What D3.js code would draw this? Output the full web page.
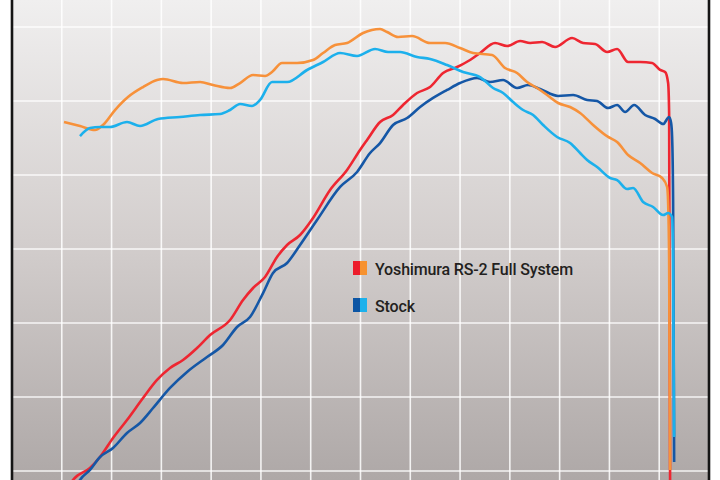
<!DOCTYPE html>
<html>
<head>
<meta charset="utf-8">
<script src="https://cdn.jsdelivr.net/npm/d3@7"></script>
<style>
    body { margin: 0; background: #ffffff; }
    #chart { width: 720px; height: 480px; }
    .legend-label { font-family: Roboto, "Noto Sans", sans-serif; font-size: 16px; font-weight: 500; letter-spacing: -0.15px; fill: #231f20; }
</style>
</head>
<body>
<div id="chart"></div>
<script>
// rpm, horsepower / torque readings off the dyno sheet
const yoshimuraHp = [
    [1165, 8.11], [1225, 8.78], [1567, 10.41], [1768, 11.89], [2029, 14.46], [2310, 16.89],
    [2632, 19.86], [2913, 22.30], [3174, 23.92], [3435, 25.00], [3717, 26.62], [3978, 28.38],
    [4380, 30.41], [4641, 33.11], [4842, 34.73], [5083, 36.22], [5324, 38.92], [5525, 40.54],
    [5786, 41.89], [6047, 44.19], [6389, 47.97], [6730, 50.68], [6991, 53.38], [7132, 54.73],
    [7393, 57.16], [7654, 58.11], [7855, 59.46], [8136, 61.08], [8398, 61.89], [8659, 63.78],
    [8940, 64.59], [9201, 65.54], [9402, 66.49], [9703, 67.84], [9945, 67.43], [10206, 68.11],
    [10407, 67.84], [10648, 67.97], [10909, 67.30], [11250, 68.51], [11471, 67.84], [11712, 67.70],
    [11954, 66.62], [12154, 67.03], [12375, 65.27], [12617, 65.27], [12858, 65.14], [13018, 64.19],
    [13119, 63.92], [13179, 62.43], [13199, 58.38], [13219, 7.43]
];

const yoshimuraTq = [
    [1045, 57.16], [1366, 56.62], [1667, 56.08], [1828, 56.76], [2069, 58.78], [2330, 60.54],
    [2632, 61.89], [2913, 62.84], [3034, 62.97], [3435, 62.43], [3777, 62.57], [4038, 62.16],
    [4380, 61.76], [4581, 62.43], [4842, 63.51], [5083, 63.38], [5223, 63.92], [5424, 65.14],
    [5726, 65.14], [6047, 65.54], [6248, 66.49], [6489, 67.57], [6730, 67.84], [7052, 69.19],
    [7393, 69.73], [7534, 69.32], [7755, 68.65], [8036, 68.78], [8398, 67.84], [8699, 67.84],
    [9000, 67.16], [9261, 66.49], [9643, 66.22], [9904, 64.46], [10145, 63.78], [10346, 62.57],
    [10547, 61.76], [10748, 60.81], [10969, 59.73], [11210, 59.19], [11411, 58.38], [11672, 56.76],
    [11974, 55.14], [12154, 54.46], [12375, 52.70], [12617, 51.62], [12858, 50.27], [13059, 49.59],
    [13159, 48.38], [13179, 46.22], [13199, 38.51], [13219, 10.14]
];

const stockHp = [
    [1266, 7.43], [1366, 8.78], [1567, 10.14], [1768, 11.89], [2029, 13.11], [2310, 15.14],
    [2572, 16.49], [2833, 18.51], [3174, 21.22], [3516, 23.38], [3918, 25.41], [4239, 27.03],
    [4520, 29.46], [4781, 30.81], [5043, 34.05], [5243, 36.76], [5525, 38.11], [5786, 40.54],
    [6127, 43.92], [6590, 48.38], [6931, 50.41], [7192, 52.97], [7393, 54.32], [7654, 56.76],
    [7936, 57.70], [8197, 59.19], [8458, 60.41], [8739, 61.49], [9000, 62.43], [9342, 63.11],
    [9603, 62.57], [9864, 62.84], [10145, 61.76], [10366, 62.16], [10608, 61.62], [10969, 60.68],
    [11270, 60.81], [11552, 60.14], [11753, 60.00], [11974, 59.05], [12154, 59.46], [12315, 58.51],
    [12496, 59.46], [12717, 58.11], [12918, 57.57], [13079, 56.89], [13199, 57.84], [13239, 57.03],
    [13259, 55.14], [13279, 46.62], [13300, 11.22]
];

const stockTq = [
    [1366, 55.27], [1567, 56.35], [1768, 56.49], [1969, 56.49], [2310, 57.16], [2572, 56.62],
    [2933, 57.57], [3375, 57.84], [3777, 58.11], [4179, 58.24], [4380, 58.78], [4581, 59.59],
    [4822, 59.32], [4982, 60.14], [5223, 62.57], [5525, 62.57], [5927, 64.19], [6248, 65.27],
    [6590, 66.49], [6931, 66.08], [7293, 67.03], [7554, 66.62], [7795, 66.62], [8136, 65.95],
    [8398, 65.68], [8739, 64.86], [9061, 63.92], [9402, 63.24], [9663, 61.76], [9864, 61.08],
    [10065, 59.86], [10266, 58.78], [10467, 58.11], [10668, 56.76], [10949, 55.14], [11210, 54.32],
    [11411, 52.97], [11552, 52.03], [11753, 51.08], [12014, 49.59], [12154, 49.32], [12355, 48.11],
    [12476, 48.24], [12677, 46.35], [12878, 45.68], [13079, 44.59], [13179, 44.86], [13259, 44.32],
    [13279, 38.51], [13300, 14.59]
];

const rpmTicks = d3.range(1000, 14000, 1000);
const valueTicks = [10, 20, 30, 40, 50, 60, 70];

const legendLabels = ["Yoshimura RS-2 Full System", "Stock"];
const legendColors = [["#ec1c2b", "#f7922f"], ["#0c55a4", "#1bb1ec"]];

class DynoVis {

    constructor(parentElement) {
        this.parentElement = parentElement;
        this.initVis();
    }

    initVis() {
        let vis = this;

        vis.width = 720;
        vis.height = 480;
        vis.plot = {left: 12, right: 709};

        vis.svg = d3.select("#" + vis.parentElement).append("svg")
            .attr("width", vis.width)
            .attr("height", vis.height);

        // background gradient, light at top
        let defs = vis.svg.append("defs");
        let grad = defs.append("linearGradient")
            .attr("id", "bg")
            .attr("x1", 0).attr("y1", 0).attr("x2", 0).attr("y2", 1);
        grad.append("stop").attr("offset", "0%").attr("stop-color", "#f0efef");
        grad.append("stop").attr("offset", "50%").attr("stop-color", "#d3cecd");
        grad.append("stop").attr("offset", "100%").attr("stop-color", "#aea8a7");

        vis.svg.append("rect")
            .attr("x", vis.plot.left)
            .attr("y", 0)
            .attr("width", vis.plot.right - vis.plot.left)
            .attr("height", vis.height)
            .attr("fill", "url(#bg)");

        vis.x = d3.scaleLinear()
            .domain([0, 14000])
            .range([vis.plot.left, vis.plot.right]);

        vis.y = d3.scaleLinear()
            .domain([0, 80])
            .range([545, -47]);

        // grid
        vis.svg.append("g")
            .attr("class", "grid")
            .selectAll("line.v")
            .data(rpmTicks)
            .enter().append("line")
            .attr("x1", d => vis.x(d)).attr("x2", d => vis.x(d))
            .attr("y1", 0).attr("y2", vis.height)
            .attr("stroke", "#ffffff")
            .attr("stroke-opacity", 0.85)
            .attr("stroke-width", 1.6);

        vis.svg.append("g")
            .attr("class", "grid")
            .selectAll("line.h")
            .data(valueTicks)
            .enter().append("line")
            .attr("x1", vis.plot.left).attr("x2", vis.plot.right)
            .attr("y1", d => vis.y(d)).attr("y2", d => vis.y(d))
            .attr("stroke", "#ffffff")
            .attr("stroke-opacity", 0.85)
            .attr("stroke-width", 1.6);

        vis.line = d3.line()
            .x(d => vis.x(d[0]))
            .y(d => vis.y(d[1]))
            .curve(d3.curveMonotoneX);

        // hp first, torque drawn over it
        let series = [
            {data: yoshimuraHp, color: "#ee2631"},
            {data: stockHp, color: "#1557a6"},
            {data: yoshimuraTq, color: "#f7913a"},
            {data: stockTq, color: "#1cb0ec"}
        ];

        vis.svg.selectAll(".curve")
            .data(series)
            .enter().append("path")
            .attr("class", "curve")
            .attr("d", d => vis.line(d.data))
            .attr("fill", "none")
            .attr("stroke", d => d.color)
            .attr("stroke-width", 2.6)
            .attr("stroke-linejoin", "round");

        // frame sides
        [vis.plot.left, vis.plot.right].forEach(px => {
            vis.svg.append("line")
                .attr("x1", px).attr("x2", px)
                .attr("y1", 0).attr("y2", vis.height)
                .attr("stroke", "#151515")
                .attr("stroke-width", 2.6);
        });

        // legend
        vis.legend = vis.svg.append("g")
            .attr("class", "legend")
            .attr("transform", "translate(353, 261)");

        let items = vis.legend.selectAll(".item")
            .data(legendLabels)
            .enter().append("g")
            .attr("class", "item")
            .attr("transform", (d, i) => `translate(0, ${i * 37})`);

        items.append("rect")
            .attr("width", 7).attr("height", 14)
            .attr("fill", (d, i) => legendColors[i][0]);
        items.append("rect")
            .attr("x", 7)
            .attr("width", 7).attr("height", 14)
            .attr("fill", (d, i) => legendColors[i][1]);
        items.append("text")
            .attr("class", "legend-label")
            .attr("x", 22)
            .attr("y", 14)
            .text(d => d);
    }
}

new DynoVis("chart");
</script>
</body>
</html>
